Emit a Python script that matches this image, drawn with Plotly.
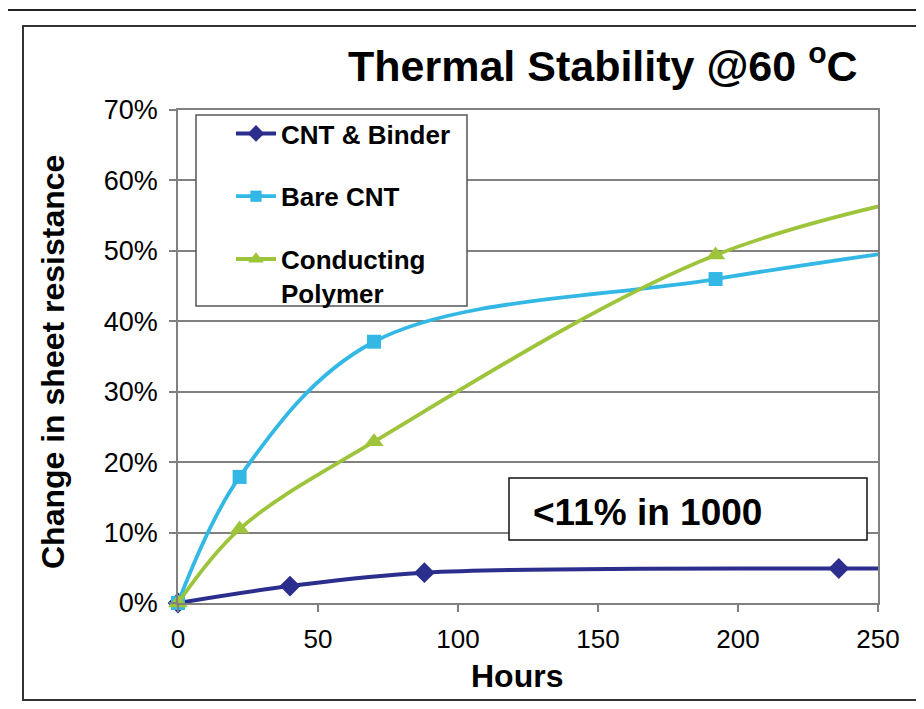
import plotly.graph_objects as go

# ---- data ----
binder_hours = [0, 40, 88, 236, 300]
binder_change = [0.0, 0.024, 0.043, 0.049, 0.048]

bare_hours = [0, 22, 70, 192, 300]
bare_change = [0.0, 0.179, 0.371, 0.460, 0.523]

poly_hours = [0, 22, 70, 192, 300]
poly_change = [0.0, 0.105, 0.229, 0.494, 0.605]

series_names = ["CNT & Binder", "Bare CNT", "Conducting<br>Polymer"]
x_ticks = [0, 50, 100, 150, 200, 250]

FONT = "Arial, Liberation Sans, Helvetica, sans-serif"
NAVY = "#2B2E8C"
SKY = "#33B8E6"
GREEN = "#9DC43B"

# page has an 8px body margin: work in screen pixels, then offset
OFF = 8
W, H = 924 - OFF, 709 - OFF
L, R, T, B = 178, 878, 110, 603          # plot area in screen pixels
pw, ph = R - L, B - T


def px(x):
    return (x - L) / pw


def py(y):
    return (B - y) / ph


fig = go.Figure()


def add(xs, ys, name, color, symbol, size, width, group):
    sizes = [size if x <= 250 else 0 for x in xs]
    fig.add_trace(go.Scatter(
        x=xs, y=ys, name="<b>" + name + "</b>", mode="lines+markers",
        line=dict(color=color, width=width, shape="spline", smoothing=1.0),
        marker=dict(symbol=symbol, size=sizes, color=color, opacity=1,
                    line=dict(width=0)),
        cliponaxis=False, legendgroup=group,
    ))


add(binder_hours, binder_change, series_names[0], NAVY, "diamond", 16, 4, "a")
add(bare_hours, bare_change, series_names[1], SKY, "square", 14, 3.8, "b")
add(poly_hours, poly_change, series_names[2], GREEN, "triangle-up", 17, 3.8, "c")

shapes = [
    # outer frame
    dict(type="rect", xref="paper", yref="paper",
         x0=px(6), x1=px(960), y0=py(740), y1=py(10),
         line=dict(color="#222", width=2), layer="below"),
    # inner frame
    dict(type="rect", xref="paper", yref="paper",
         x0=px(23), x1=px(918), y0=py(700), y1=py(26),
         line=dict(color="#333", width=2), layer="below"),
    # legend box
    dict(type="rect", xref="paper", yref="paper",
         x0=px(196), x1=px(467), y0=py(306), y1=py(115),
         line=dict(color="#555", width=1.5), fillcolor="white", layer="above"),
    # text box
    dict(type="rect", xref="paper", yref="paper",
         x0=px(509), x1=px(867), y0=py(540), y1=py(478),
         line=dict(color="#111", width=1.5), fillcolor="white", layer="above"),
]

annotations = [
    dict(text="<b>Thermal Stability @60 <sup>o</sup>C</b>", xref="paper", yref="paper",
         x=px(860), y=py(63), xanchor="right", yanchor="middle", showarrow=False,
         font=dict(family=FONT, size=43, color="black")),
    dict(text="<b><11% in 1000</b>", xref="paper", yref="paper",
         x=px(531), y=py(512), xanchor="left", yanchor="middle", showarrow=False,
         font=dict(family=FONT, size=37, color="black")),
    dict(text="<b>Change in sheet resistance</b>", xref="paper", yref="paper",
         x=px(53), y=py(362), xanchor="center", yanchor="middle", textangle=-90,
         showarrow=False, font=dict(family=FONT, size=32, color="black")),
    dict(text="<b>Hours</b>", xref="paper", yref="paper",
         x=px(517), y=py(676), xanchor="center", yanchor="middle",
         showarrow=False, font=dict(family=FONT, size=32, color="black")),
]

fig.update_layout(
    width=W, height=H,
    margin=dict(l=L - OFF, r=W - (R - OFF), t=T - OFF, b=H - (B - OFF), pad=0),
    paper_bgcolor="white", plot_bgcolor="white",
    font=dict(family=FONT, color="black"),
    shapes=shapes, annotations=annotations,
    legend=dict(x=px(231), y=py(110), xanchor="left", yanchor="top",
                bgcolor="rgba(0,0,0,0)", borderwidth=0,
                font=dict(family=FONT, size=26, color="black"),
                tracegroupgap=26, valign="top", itemwidth=40),
    showlegend=True,
)

fig.update_xaxes(range=[0, 250], tickvals=x_ticks, showgrid=False,
                 showline=True, linecolor="#808080", linewidth=1.5, mirror=True,
                 ticks="outside", ticklen=7, tickcolor="#808080", tickwidth=1.5,
                 ticklabelstandoff=5,
                 tickfont=dict(family=FONT, size=26, color="black"), zeroline=False)
fig.update_yaxes(range=[0, 0.70], dtick=0.1, tickformat=".0%", showgrid=True,
                 gridcolor="#808080", gridwidth=1.5,
                 showline=True, linecolor="#808080", linewidth=1.5, mirror=True,
                 ticks="outside", ticklen=7, tickcolor="#808080", tickwidth=1.5,
                 ticklabelstandoff=6,
                 tickfont=dict(family=FONT, size=27, color="black"), zeroline=False)

fig.write_html("out.html")
